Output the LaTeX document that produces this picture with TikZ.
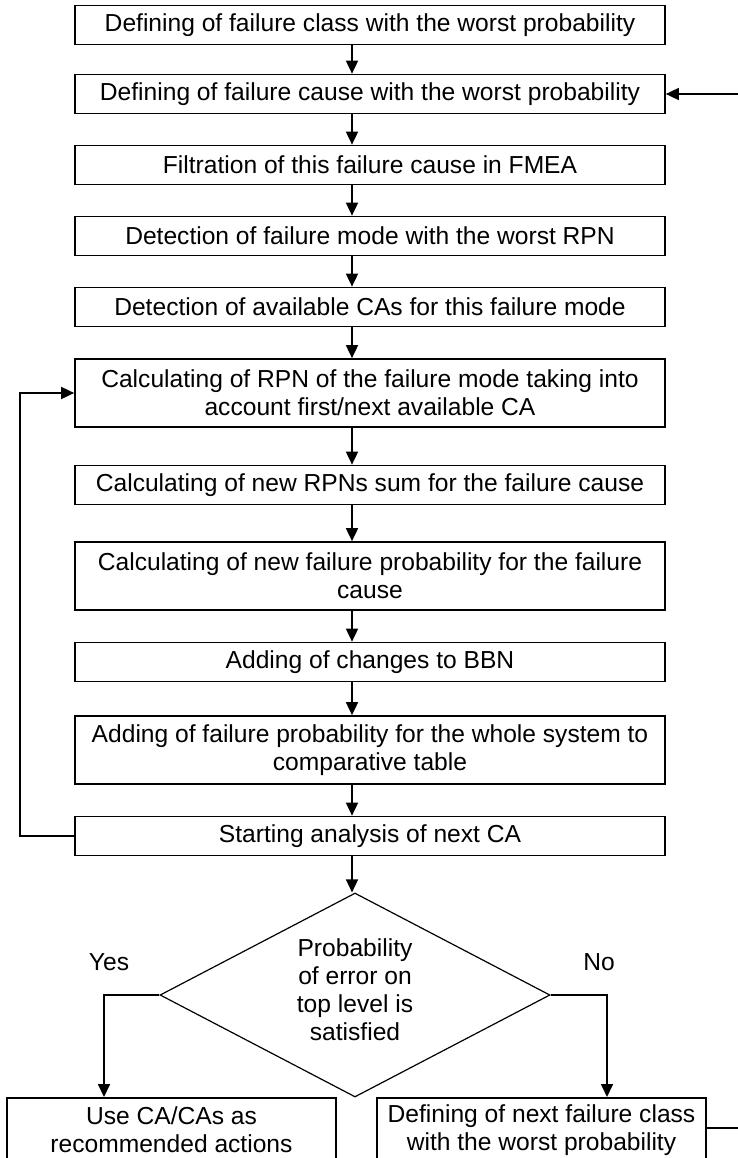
\documentclass[tikz,border=0pt]{standalone}
\usepackage{fontspec}
\setmainfont{Liberation Sans}
\usetikzlibrary{shapes.geometric,arrows.meta}
\begin{document}
\begin{tikzpicture}[x=1pt,y=-1pt,
  txt/.style={font=\fontsize{24.6}{28}\selectfont},
  box/.style={txt,draw,line width=1.7pt,minimum width=590pt,inner sep=0pt,align=center},
  one/.style={box,minimum height=39pt},
  two/.style={box,minimum height=68pt},
  endbox/.style={box,minimum height=64pt,anchor=north},
  arr/.style={line width=1.7pt,-{Triangle[width=12pt,length=13pt]}},
  ln/.style={line width=1.7pt}]
\useasboundingbox (0,0) rectangle (738,1158);
\clip (0,0) rectangle (738,1158);
\coordinate (ax) at (352,0);
\node[one] (b1) at (370,25) {Defining of failure class with the worst probability};
\node[one] (b2) at (370,94) {Defining of failure cause with the worst probability};
\node[one] (b3) at (370,165) {Filtration of this failure cause in FMEA};
\node[one] (b4) at (370,236) {Detection of failure mode with the worst RPN};
\node[one] (b5) at (370,307) {Detection of available CAs for this failure mode};
\node[two] (b6) at (370,393) {Calculating of RPN of the failure mode taking into\\account first/next available CA};
\node[one] (b7) at (370,485) {Calculating of new RPNs sum for the failure cause};
\node[two] (b8) at (370,576) {Calculating of new failure probability for the failure\\cause};
\node[one] (b9) at (370,662) {Adding of changes to BBN};
\node[two] (b10) at (370,750) {Adding of failure probability for the whole system to\\comparative table};
\node[one] (b11) at (370,836) {Starting analysis of next CA};
\node[diamond,draw,line width=1.2pt,minimum width=390pt,minimum height=204pt,inner sep=0pt] (d) at (355,995) {};
\node[txt,align=center,inner sep=0pt] (dt) at (355,990) {Probability\\of error on\\top level is\\satisfied};
\node[endbox,minimum width=329pt] (yes) at (171.5,1097) {Use CA/CAs as\\recommended actions};
\node[endbox,minimum width=329pt] (no) at (541.5,1097) {Defining of next failure class\\with the worst probability};
\node[txt] (ly) at (109,962) {Yes};
\node[txt] (lno) at (599,962) {No};
\foreach \a/\b in {b1/b2,b2/b3,b3/b4,b4/b5,b5/b6,b6/b7,b7/b8,b8/b9,b9/b10,b10/b11}
  \draw[arr] (\a.south -| ax) -- (\b.north -| ax);
\draw[arr] (b11.south -| ax) -- (d.north -| ax);
% loop back
\coordinate (lx) at (20,0);
\draw[arr] (b11.west) -- (b11.west -| lx) -- (b6.west -| lx) -- (b6.west);
% decision branches
\coordinate (yx) at (104,0);
\coordinate (nx) at (607,0);
\draw[arr] (d.west) -- (d.west -| yx) -- (yes.north -| yx);
\draw[arr] (d.east) -- (d.east -| nx) -- (no.north -| nx);
% lines leaving the picture on the right
\coordinate (rtop) at (745,94);
\draw[arr] (rtop) -- (b2.east);
\coordinate (rbot) at (745,1128);
\draw[ln] (no.east |- rbot) -- (rbot);
\end{tikzpicture}
\end{document}
